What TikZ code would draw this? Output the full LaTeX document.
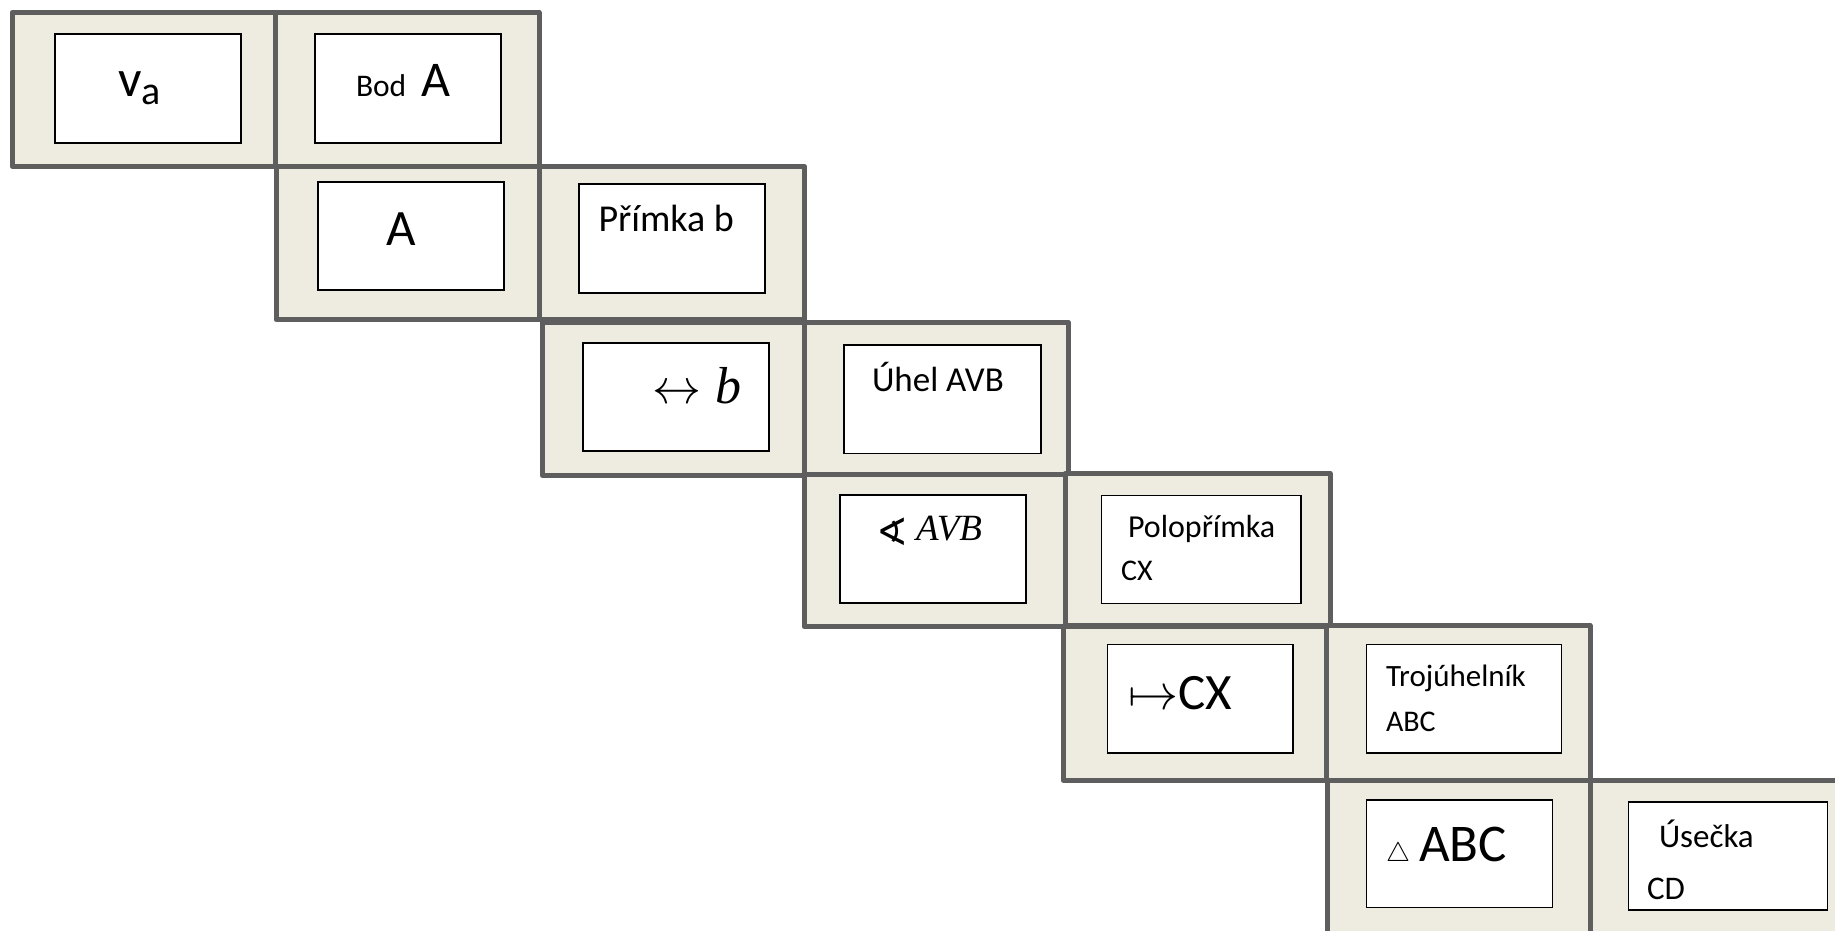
\RequirePackage{fix-cm}
\documentclass[tikz,border=0pt]{standalone}
\usepackage{fontspec}
\setmainfont{Carlito}
\newfontfamily\serifit{Liberation Serif}[UprightFont=*-Italic]
\newfontfamily\symfont{DejaVu Sans}
\definecolor{bgtan}{HTML}{EEECE1}
\definecolor{bordergray}{HTML}{5E5E5E}
\tikzset{
  obox/.style={draw=bordergray, fill=bgtan, line width=5pt, line join=round, inner sep=0pt, outer sep=0pt, anchor=north west},
  ibox/.style={draw=black, fill=white, line width=1.8pt, inner sep=0pt, outer sep=0pt, anchor=north west},
  txt/.style={inner sep=0pt, outer sep=0pt, anchor=base west, text=black},
}
\newcommand{\fs}[1]{\fontsize{#1}{#1}\selectfont}
\begin{document}
\begin{tikzpicture}[x=1pt,y=-1pt]
\useasboundingbox (0,0) rectangle (1835,930);
\clip (0,0) rectangle (1835,930);
% outer boxes
\node[obox, minimum width=263pt, minimum height=153.5pt] (o1) at (12,12.5) {};
\node[obox, minimum width=264pt, minimum height=153.5pt] (o2) at (275,12.5) {};
\node[obox, minimum width=263pt, minimum height=153.5pt] (o3) at (276,166) {};
\node[obox, minimum width=265pt, minimum height=153.5pt] (o4) at (539,166) {};
\node[obox, minimum width=261.5pt, minimum height=153.5pt] (o5) at (542.5,322) {};
\node[obox, minimum width=264pt, minimum height=153.5pt] (o6) at (804,322) {};
\node[obox, minimum width=261pt, minimum height=152pt] (o7) at (804,474.5) {};
\node[obox, minimum width=265pt, minimum height=152pt] (o8) at (1065,473.5) {};
\node[obox, minimum width=263.5pt, minimum height=154pt] (o9) at (1063,626) {};
\node[obox, minimum width=263.5pt, minimum height=154.5pt] (o10) at (1326.5,625.5) {};
\node[obox, minimum width=263pt, minimum height=153.5pt] (o11) at (1327,780.5) {};
\node[obox, minimum width=263pt, minimum height=153.5pt] (o12) at (1590,780.5) {};
% inner boxes
\node[ibox, minimum width=186pt, minimum height=109pt] (i1) at (55,34) {};
\node[ibox, minimum width=186pt, minimum height=109pt] (i2) at (315,34) {};
\node[ibox, minimum width=186pt, minimum height=108pt] (i3) at (318,182) {};
\node[ibox, minimum width=186pt, minimum height=109pt] (i4) at (579,184) {};
\node[ibox, minimum width=186pt, minimum height=108pt] (i5) at (583,343) {};
\node[ibox, minimum width=197pt, minimum height=108.5pt] (i6) at (844,345) {};
\node[ibox, minimum width=186pt, minimum height=108pt] (i7) at (840,495) {};
\node[ibox, minimum width=199.5pt, minimum height=108pt] (i8) at (1101.5,495.5) {};
\node[ibox, minimum width=185.5pt, minimum height=108.5pt] (i9) at (1107.5,644.5) {};
\node[ibox, minimum width=195pt, minimum height=108.5pt] (i10) at (1366.5,644.5) {};
\node[ibox, minimum width=186pt, minimum height=107.5pt] (i11) at (1366.5,800) {};
\node[ibox, minimum width=199pt, minimum height=108pt] (i12) at (1628.5,802) {};
% texts
\node[txt] (t1) at (118,96.7) {\fs{52}v\raisebox{-7.3pt}{\fs{40}a}};
\node[txt] (t2) at (356,96) {{\fs{31.5}Bod}\hspace{15pt}{\fs{50}A}};
\node[txt] (t3) at (386.5,245) {\fs{51}A};
\node[txt] (t4) at (598.5,231) {\fs{38}Přímka b};
\node[txt] (t5) at (652,403) {{\fs{49}$\leftrightarrow$}\hspace{14pt}{\serifit\fs{52}b}};
\node[txt] (t6) at (872,391.7) {\fs{35}Úhel AVB};
\node[txt] (t7) at (876,545) {\symfont\fs{38}∢};
\node[txt] (t7b) at (916,540) {\serifit\fs{37}AVB};
\node[txt] (t8) at (1128,537) {\fs{32}Polopřímka};
\node[txt] (t8b) at (1121,580.7) {\fs{30}CX};
\node[txt] (t9) at (1128,709) {{\fs{50}$\mapsto$}{\fs{51}CX}};
\node[txt] (t10) at (1386,686) {\fs{31}Trojúhelník};
\node[txt] (t10b) at (1386,731) {\fs{30}ABC};
\node[txt] (t11) at (1386,861.7) {{\fs{27}$\triangle$}\hspace{9pt}{\fs{53}ABC}};
\node[txt] (t12) at (1659,847) {\fs{33}Úsečka};
\node[txt] (t12b) at (1647,899) {\fs{33}CD};
\end{tikzpicture}
\end{document}
